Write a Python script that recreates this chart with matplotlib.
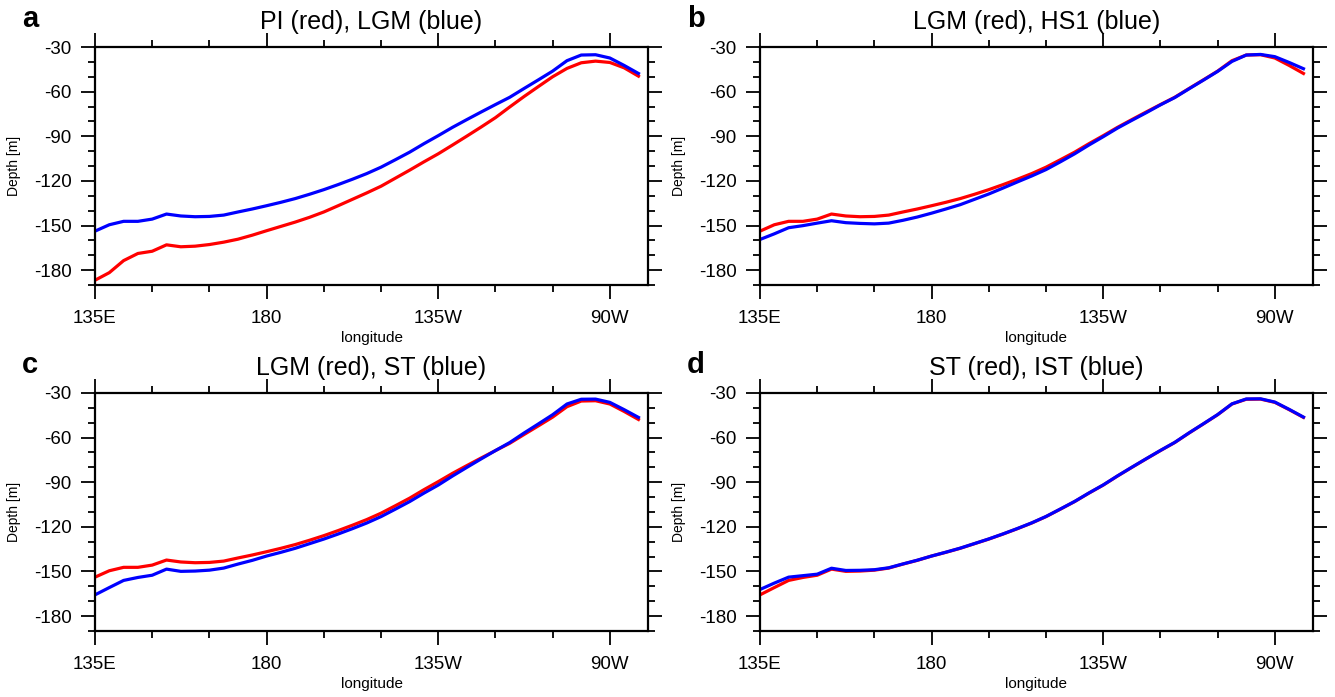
import numpy as np
import matplotlib
matplotlib.use('Agg')
import matplotlib.pyplot as plt
from matplotlib.ticker import FixedLocator, MultipleLocator, FuncFormatter

plt.rcParams['font.family'] = ['Liberation Sans', 'DejaVu Sans']
plt.rcParams['axes.unicode_minus'] = False

# longitude grid of the section (deg E)
lon = [135.0, 138.75, 142.5, 146.25, 150.0, 153.75, 157.5, 161.25, 165.0, 168.75,
       172.5, 176.25, 180.0, 183.75, 187.5, 191.25, 195.0, 198.75, 202.5, 206.25,
       210.0, 213.75, 217.5, 221.25, 225.0, 228.75, 232.5, 236.25, 240.0, 243.75,
       247.5, 251.25, 255.0, 258.75, 262.5, 266.25, 270.0, 273.75, 277.5]

# depth (m) for each run
pi = [-186.8, -181.7, -173.6, -168.8, -167.3, -163.0, -164.3, -163.9, -162.8, -161.2,
      -159.2, -156.5, -153.5, -150.6, -147.7, -144.5, -140.9, -136.7, -132.4, -128.1,
      -123.6, -118.2, -112.8, -107.2, -101.8, -95.9, -89.9, -83.8, -77.5, -70.3,
      -63.3, -56.6, -50.0, -44.4, -40.6, -39.5, -40.4, -44.0, -49.6]
lgm = [-153.8, -149.5, -147.2, -147.2, -145.7, -142.3, -143.6, -144.1, -143.9, -143.0,
       -140.9, -138.9, -136.7, -134.4, -131.9, -129.0, -125.9, -122.5, -118.9, -115.1,
       -110.8, -105.8, -100.7, -95.0, -89.6, -84.0, -78.8, -73.7, -68.7, -63.8,
       -57.9, -52.1, -46.2, -39.2, -35.4, -35.2, -37.4, -42.4, -47.8]
hs1 = [-159.4, -155.6, -151.5, -150.1, -148.4, -146.8, -148.1, -148.6, -148.9, -148.4,
       -146.5, -144.3, -141.7, -138.9, -136.0, -132.4, -128.8, -124.8, -120.7, -116.7,
       -112.4, -107.2, -101.8, -95.9, -90.3, -84.5, -79.3, -74.2, -68.9, -64.0,
       -58.1, -52.3, -46.4, -39.7, -35.4, -35.0, -36.5, -40.4, -44.6]
st = [-165.7, -160.8, -156.0, -154.0, -152.5, -148.4, -149.9, -149.7, -149.1, -147.7,
      -145.0, -142.5, -139.6, -137.1, -134.4, -131.3, -128.2, -124.8, -121.2, -117.4,
      -113.1, -108.1, -103.0, -97.3, -91.9, -85.8, -80.0, -74.3, -68.7, -63.3,
      -56.9, -50.8, -44.6, -37.4, -34.2, -34.1, -36.3, -41.2, -46.4]
ist = [-162.1, -157.8, -153.8, -152.8, -151.8, -147.8, -149.3, -149.2, -148.8, -147.5,
       -144.9, -142.4, -139.6, -137.0, -134.3, -131.2, -128.1, -124.7, -121.1, -117.3,
       -113.0, -108.0, -102.9, -97.2, -91.8, -85.7, -79.9, -74.2, -68.6, -63.2,
       -56.8, -50.7, -44.5, -37.3, -34.0, -33.9, -36.1, -41.0, -46.2]

panels = [
    ('a', 'PI (red), LGM (blue)', pi, lgm),
    ('b', 'LGM (red), HS1 (blue)', lgm, hs1),
    ('c', 'LGM (red), ST (blue)', lgm, st),
    ('d', 'ST (red), IST (blue)', st, ist),
]

W, H = 1335, 697
fig = plt.figure(figsize=(W / 100, H / 100), dpi=100)

# axes boxes in pixels: left, top
boxes = [(95, 47), (760, 47), (95, 393), (760, 393)]
aw, ah = 553, 238


def lon_fmt(x, pos):
    x = int(round(x))
    if x == 180:
        return '180'
    if x < 180:
        return '%dE' % x
    return '%dW' % (360 - x)


for (letter, title, red, blue), (px, py) in zip(panels, boxes):
    ax = fig.add_axes([px / W, 1 - (py + ah) / H, aw / W, ah / H])
    ax.plot(lon, red, color='red', lw=2.3)
    ax.plot(lon, blue, color='blue', lw=2.3)
    ax.set_xlim(135, 280)
    ax.set_ylim(-190, -30)
    ax.xaxis.set_major_locator(FixedLocator([135, 180, 225, 270]))
    ax.xaxis.set_minor_locator(MultipleLocator(15))
    ax.xaxis.set_major_formatter(FuncFormatter(lon_fmt))
    ax.yaxis.set_major_locator(MultipleLocator(30))
    ax.yaxis.set_minor_locator(MultipleLocator(10))
    ax.tick_params(which='both', direction='out', top=True, right=True,
                   width=1.3, labelsize=13.5, colors='black')
    ax.tick_params(which='major', length=10)
    ax.tick_params(which='minor', length=5)
    ax.tick_params(axis='y', pad=7)
    ax.tick_params(axis='x', pad=8)
    for s in ax.spines.values():
        s.set_linewidth(1.6)
    ax.set_xlabel('longitude', fontsize=11, labelpad=3)
    ax.set_ylabel('Depth [m]', fontsize=10, labelpad=9)
    ax.set_title(title, fontsize=18, pad=13)
    fig.text((px - 73) / W, 1 - (py - 28) / H, letter, fontsize=21,
             fontweight='bold', ha='left', va='center')

fig.savefig('out.png', dpi=100)
